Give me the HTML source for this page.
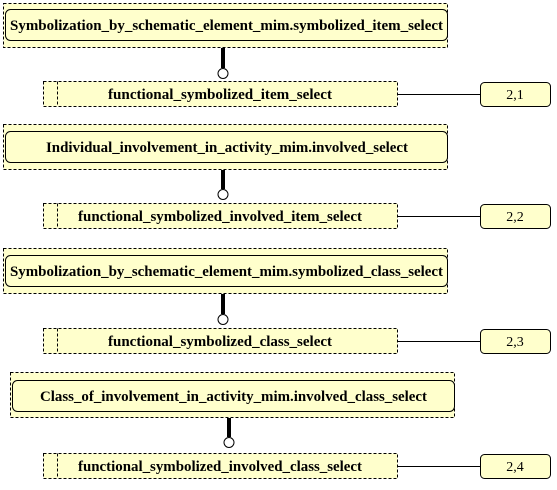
<!DOCTYPE html>
<html><head><style>
body{margin:0;background:#fff}
svg text{font-family:"Liberation Serif",serif;font-weight:bold;font-size:15px}
svg text.n{font-weight:normal;font-size:14px}
</style></head><body>
<svg width="557" height="485" xmlns="http://www.w3.org/2000/svg">
<g fill="#ffffcc" stroke="#000" stroke-width="1">
<rect x="3.5" y="3.5" width="444" height="44" stroke-dasharray="3,2"/>
<rect x="5.5" y="9.5" width="442" height="31" rx="5"/>
<rect x="43.5" y="81.5" width="354" height="25" stroke-dasharray="3,2"/>
<line x1="57.5" y1="81.5" x2="57.5" y2="106.5" stroke-dasharray="3,2"/>
<line x1="397" y1="94.5" x2="480" y2="94.5"/>
<rect x="480.5" y="82.5" width="70" height="24" rx="4"/>
<line x1="223" y1="48" x2="223" y2="68" stroke-width="4"/>
<circle cx="223" cy="73.5" r="5" fill="#fff"/>
<rect x="3.5" y="124.5" width="444" height="45" stroke-dasharray="3,2"/>
<rect x="5.5" y="131.5" width="442" height="31" rx="5"/>
<rect x="43.5" y="203.5" width="354" height="25" stroke-dasharray="3,2"/>
<line x1="57.5" y1="203.5" x2="57.5" y2="228.5" stroke-dasharray="3,2"/>
<line x1="397" y1="216.5" x2="480" y2="216.5"/>
<rect x="480.5" y="204.5" width="70" height="24" rx="4"/>
<line x1="223" y1="170" x2="223" y2="189" stroke-width="4"/>
<circle cx="223" cy="194.5" r="5" fill="#fff"/>
<rect x="3.5" y="248.5" width="444" height="45" stroke-dasharray="3,2"/>
<rect x="5.5" y="255.5" width="442" height="31" rx="5"/>
<rect x="43.5" y="328.5" width="354" height="25" stroke-dasharray="3,2"/>
<line x1="57.5" y1="328.5" x2="57.5" y2="353.5" stroke-dasharray="3,2"/>
<line x1="397" y1="341.5" x2="480" y2="341.5"/>
<rect x="480.5" y="329.5" width="70" height="24" rx="4"/>
<line x1="223" y1="294" x2="223" y2="314" stroke-width="4"/>
<circle cx="223" cy="319.5" r="5" fill="#fff"/>
<rect x="10.5" y="372.5" width="444" height="45" stroke-dasharray="3,2"/>
<rect x="12.5" y="380.5" width="442" height="31" rx="5"/>
<rect x="43.5" y="453.5" width="354" height="25" stroke-dasharray="3,2"/>
<line x1="57.5" y1="453.5" x2="57.5" y2="478.5" stroke-dasharray="3,2"/>
<line x1="397" y1="466.5" x2="480" y2="466.5"/>
<rect x="480.5" y="454.5" width="70" height="24" rx="4"/>
<line x1="229" y1="418" x2="229" y2="437" stroke-width="4"/>
<circle cx="229" cy="442.5" r="5" fill="#fff"/>
</g>
<g fill="#000">
<text x="10" y="30" textLength="433" lengthAdjust="spacingAndGlyphs">Symbolization_by_schematic_element_mim.symbolized_item_select</text>
<text x="108" y="99" textLength="224" lengthAdjust="spacingAndGlyphs">functional_symbolized_item_select</text>
<text class="n" x="515" y="99" text-anchor="middle">2,1</text>
<text x="46" y="152" textLength="362" lengthAdjust="spacingAndGlyphs">Individual_involvement_in_activity_mim.involved_select</text>
<text x="78" y="221" textLength="284" lengthAdjust="spacingAndGlyphs">functional_symbolized_involved_item_select</text>
<text class="n" x="515" y="221" text-anchor="middle">2,2</text>
<text x="10" y="276" textLength="433" lengthAdjust="spacingAndGlyphs">Symbolization_by_schematic_element_mim.symbolized_class_select</text>
<text x="108" y="346" textLength="224" lengthAdjust="spacingAndGlyphs">functional_symbolized_class_select</text>
<text class="n" x="515" y="346" text-anchor="middle">2,3</text>
<text x="40" y="401" textLength="387" lengthAdjust="spacingAndGlyphs">Class_of_involvement_in_activity_mim.involved_class_select</text>
<text x="78" y="471" textLength="284" lengthAdjust="spacingAndGlyphs">functional_symbolized_involved_class_select</text>
<text class="n" x="515" y="471" text-anchor="middle">2,4</text>
</g>
</svg>
</body></html>
